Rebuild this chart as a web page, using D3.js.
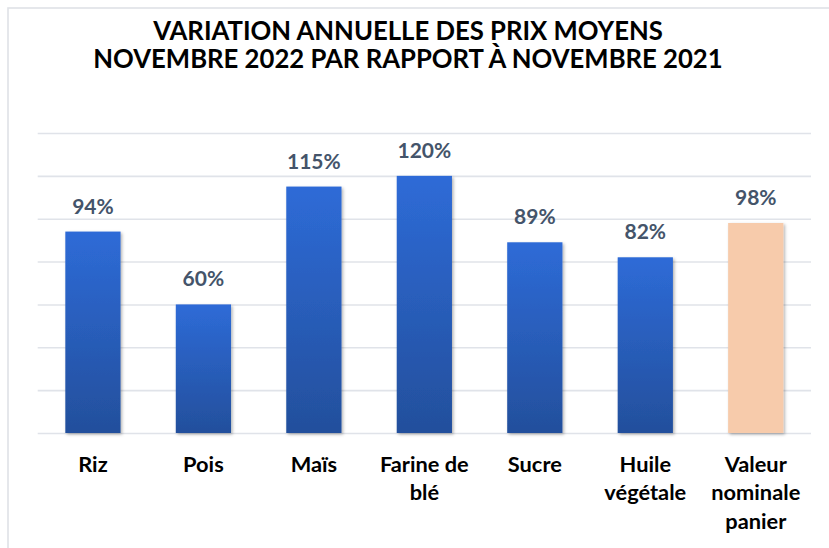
<!DOCTYPE html>
<html><head><meta charset="utf-8">
<script src="https://cdn.jsdelivr.net/npm/d3@7"></script>
<style>html,body{margin:0;padding:0;background:#fff;}svg{display:block;}</style>
</head><body>
<svg id="chart" width="829" height="548"></svg>
<script>
const titleLines = ["VARIATION ANNUELLE DES PRIX MOYENS", "NOVEMBRE 2022 PAR RAPPORT À NOVEMBRE 2021"];
const categories = ["Riz", "Pois", "Maïs", "Farine de\nblé", "Sucre", "Huile\nvégétale", "Valeur\nnominale\npanier"];
const values = [94, 60, 115, 120, 89, 82, 98];
const highlight = [false, false, false, false, false, false, true];
const yTicks = [0, 20, 40, 60, 80, 100, 120, 140];

const FONT = "Lato, 'Open Sans', sans-serif";
const svg = d3.select("#chart");
const W = 829, H = 548;
const margin = {left: 37.7, right: 829 - 811, top: 133, bottom: 548 - 433};

svg.append("rect").attr("width", W).attr("height", H).attr("fill", "#fff");
svg.append("rect").attr("x", 8).attr("y", 8).attr("width", 900).attr("height", 900)
  .attr("fill", "none").attr("stroke", "#dfe2e7").attr("stroke-width", 1.6);

const defs = svg.append("defs");
const grad = defs.append("linearGradient").attr("id", "blueGrad").attr("x1", 0).attr("y1", 0).attr("x2", 0).attr("y2", 1);
grad.append("stop").attr("offset", "0%").attr("stop-color", "#2e6bd7");
grad.append("stop").attr("offset", "100%").attr("stop-color", "#234f9c");
const f = defs.append("filter").attr("id", "shadow").attr("x", "-20%").attr("y", "-20%").attr("width", "150%").attr("height", "150%");
f.append("feDropShadow").attr("dx", 1.5).attr("dy", 1.5).attr("stdDeviation", 1.8).attr("flood-color", "#000").attr("flood-opacity", 0.3);

const x = d3.scaleBand().domain(categories).range([margin.left, W - margin.right]).paddingInner(0.5).paddingOuter(0.25);
const y = d3.scaleLinear().domain([0, 140]).range([H - margin.bottom, margin.top]);

// gridlines
const yAxis = d3.axisLeft(y).tickValues(yTicks).tickSize(-(W - margin.right - margin.left)).tickFormat("");
const gy = svg.append("g").attr("transform", `translate(${margin.left},0)`).call(yAxis);
gy.select(".domain").remove();
gy.selectAll(".tick line").attr("stroke", "#e0e3e9").attr("stroke-width", 1.6);

// bars
svg.append("g").selectAll("rect").data(values).join("rect")
  .attr("x", (d, i) => x(categories[i]))
  .attr("width", x.bandwidth())
  .attr("y", d => y(d))
  .attr("height", d => y(0) - y(d))
  .attr("fill", (d, i) => highlight[i] ? "#f7cbab" : "url(#blueGrad)")
  .attr("filter", "url(#shadow)");

// value labels
svg.append("g").selectAll("text").data(values).join("text")
  .attr("x", (d, i) => x(categories[i]) + x.bandwidth() / 2)
  .attr("y", d => y(d) - 18)
  .attr("text-anchor", "middle")
  .attr("font-family", FONT).attr("font-weight", 700).attr("font-size", 21)
  .attr("fill", "#44546a")
  .text(d => d + "%");

// x axis labels
const xAxis = d3.axisBottom(x).tickSize(0).tickFormat("");
const gx = svg.append("g").attr("transform", `translate(0,${y(0)})`).call(xAxis);
gx.select(".domain").remove();
gx.selectAll(".tick").each(function(d) {
  const lines = d.split("\n");
  const t = d3.select(this).append("text")
    .attr("text-anchor", "middle")
    .attr("font-family", FONT).attr("font-weight", 700).attr("font-size", 21.8)
    .attr("fill", "#000");
  lines.forEach((ln, k) => t.append("tspan").attr("x", 0).attr("y", 38.5 + k * 28.5).text(ln));
});

// title
const tt = svg.append("text").attr("text-anchor", "middle")
  .attr("font-family", FONT).attr("font-weight", 700).attr("font-size", 25.7).attr("fill", "#000");
titleLines.forEach((ln, k) => tt.append("tspan").attr("x", 408).attr("y", 40 + k * 28).text(ln));
</script>
</body></html>
